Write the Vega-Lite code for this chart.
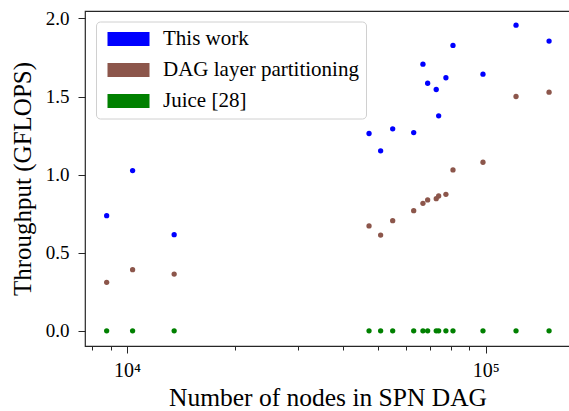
{
  "$schema": "https://vega.github.io/schema/vega-lite/v6.json",
  "width": 485,
  "height": 335,
  "autosize": {"type": "none"},
  "padding": {"left": 85, "top": 11, "right": 0, "bottom": 65},
  "background": "white",
  "config": {
    "font": "Liberation Serif",
    "view": {"stroke": "#262626", "strokeWidth": 1.2},
    "axis": {
      "grid": false,
      "domain": false,
      "tickColor": "#262626",
      "tickWidth": 1,
      "labelColor": "black",
      "titleColor": "black",
      "labelFont": "Liberation Serif",
      "titleFont": "Liberation Serif",
      "titleFontWeight": "normal"
    }
  },
  "data": {
    "values": [
      {"n": 8780, "t": 0.737, "s": "This work"},
      {"n": 10370, "t": 1.026, "s": "This work"},
      {"n": 13540, "t": 0.615, "s": "This work"},
      {"n": 47300, "t": 1.263, "s": "This work"},
      {"n": 50950, "t": 1.152, "s": "This work"},
      {"n": 55050, "t": 1.293, "s": "This work"},
      {"n": 63000, "t": 1.269, "s": "This work"},
      {"n": 66850, "t": 1.707, "s": "This work"},
      {"n": 68900, "t": 1.585, "s": "This work"},
      {"n": 72800, "t": 1.545, "s": "This work"},
      {"n": 73950, "t": 1.376, "s": "This work"},
      {"n": 77470, "t": 1.62, "s": "This work"},
      {"n": 81070, "t": 1.827, "s": "This work"},
      {"n": 98280, "t": 1.643, "s": "This work"},
      {"n": 121500, "t": 1.957, "s": "This work"},
      {"n": 150200, "t": 1.855, "s": "This work"},
      {"n": 8780, "t": 0.31, "s": "DAG layer partitioning"},
      {"n": 10370, "t": 0.391, "s": "DAG layer partitioning"},
      {"n": 13540, "t": 0.363, "s": "DAG layer partitioning"},
      {"n": 47300, "t": 0.671, "s": "DAG layer partitioning"},
      {"n": 50950, "t": 0.613, "s": "DAG layer partitioning"},
      {"n": 55050, "t": 0.705, "s": "DAG layer partitioning"},
      {"n": 63000, "t": 0.769, "s": "DAG layer partitioning"},
      {"n": 66850, "t": 0.816, "s": "DAG layer partitioning"},
      {"n": 68900, "t": 0.838, "s": "DAG layer partitioning"},
      {"n": 72800, "t": 0.846, "s": "DAG layer partitioning"},
      {"n": 73950, "t": 0.863, "s": "DAG layer partitioning"},
      {"n": 77470, "t": 0.874, "s": "DAG layer partitioning"},
      {"n": 81070, "t": 1.03, "s": "DAG layer partitioning"},
      {"n": 98280, "t": 1.079, "s": "DAG layer partitioning"},
      {"n": 121500, "t": 1.5, "s": "DAG layer partitioning"},
      {"n": 150200, "t": 1.528, "s": "DAG layer partitioning"},
      {"n": 8780, "t": 0, "s": "Juice [28]"},
      {"n": 10370, "t": 0, "s": "Juice [28]"},
      {"n": 13540, "t": 0, "s": "Juice [28]"},
      {"n": 47300, "t": 0, "s": "Juice [28]"},
      {"n": 50950, "t": 0, "s": "Juice [28]"},
      {"n": 55050, "t": 0, "s": "Juice [28]"},
      {"n": 63000, "t": 0, "s": "Juice [28]"},
      {"n": 66850, "t": 0, "s": "Juice [28]"},
      {"n": 68900, "t": 0, "s": "Juice [28]"},
      {"n": 72800, "t": 0, "s": "Juice [28]"},
      {"n": 73950, "t": 0, "s": "Juice [28]"},
      {"n": 77470, "t": 0, "s": "Juice [28]"},
      {"n": 81070, "t": 0, "s": "Juice [28]"},
      {"n": 98280, "t": 0, "s": "Juice [28]"},
      {"n": 121500, "t": 0, "s": "Juice [28]"},
      {"n": 150200, "t": 0, "s": "Juice [28]"}
    ]
  },
  "layer": [
    {
      "mark": {"type": "circle", "size": 28, "opacity": 1},
      "encoding": {
        "x": {
          "field": "n",
          "type": "quantitative",
          "scale": {"type": "log", "domain": [7640, 171800], "nice": false},
          "axis": {
            "orient": "bottom",
            "values": [8000, 9000, 20000, 30000, 40000, 50000, 60000, 70000, 80000, 90000],
            "labels": false,
            "tickSize": 4,
            "title": null
          }
        },
        "y": {
          "field": "t",
          "type": "quantitative",
          "scale": {"domain": [-0.0975, 2.0475], "nice": false, "zero": false},
          "axis": {
            "values": [0, 0.5, 1, 1.5, 2],
            "format": ".1f",
            "tickSize": 7,
            "labelPadding": 9,
            "labelFontSize": 19,
            "title": "Throughput (GFLOPS)",
            "titleFontSize": 25,
            "titleX": -55,
            "titleY": 167.5,
            "titleAngle": -90,
            "titleBaseline": "alphabetic",
            "titleAlign": "center"
          }
        },
        "color": {
          "field": "s",
          "type": "nominal",
          "scale": {
            "domain": ["This work", "DAG layer partitioning", "Juice [28]"],
            "range": ["#0000ff", "#8c564b", "#008000"]
          },
          "legend": {
            "title": null,
            "orient": "none",
            "legendX": 11,
            "legendY": 10.5,
            "symbolType": "M-3,-1L3,-1L3,1L-3,1Z",
            "symbolSize": 196,
            "symbolOffset": 15,
            "symbolStrokeWidth": 0,
            "symbolOpacity": 1,
            "labelOffset": 24,
            "labelFontSize": 21,
            "labelFont": "Liberation Serif",
            "labelColor": "black",
            "labelLimit": 400,
            "padding": 7,
            "rowPadding": 9,
            "strokeColor": "#d0d0d0",
            "fillColor": "rgba(255,255,255,0.8)",
            "cornerRadius": 4
          }
        }
      }
    },
    {
      "mark": {"type": "circle", "opacity": 0},
      "encoding": {
        "x": {
          "field": "n",
          "type": "quantitative",
          "scale": {"type": "log", "domain": [7640, 171800], "nice": false},
          "axis": {
            "orient": "bottom",
            "values": [10000, 100000],
            "labelExpr": "datum.value == 10000 ? '10⁴' : '10⁵'",
            "tickSize": 7,
            "labelPadding": 23,
            "labelBaseline": "alphabetic",
            "labelFontSize": 20,
            "title": "Number of nodes in SPN DAG",
            "titleFontSize": 25.5,
            "titleY": 59,
            "titleBaseline": "alphabetic"
          }
        }
      }
    }
  ],
  "resolve": {"axis": {"x": "independent"}}
}
